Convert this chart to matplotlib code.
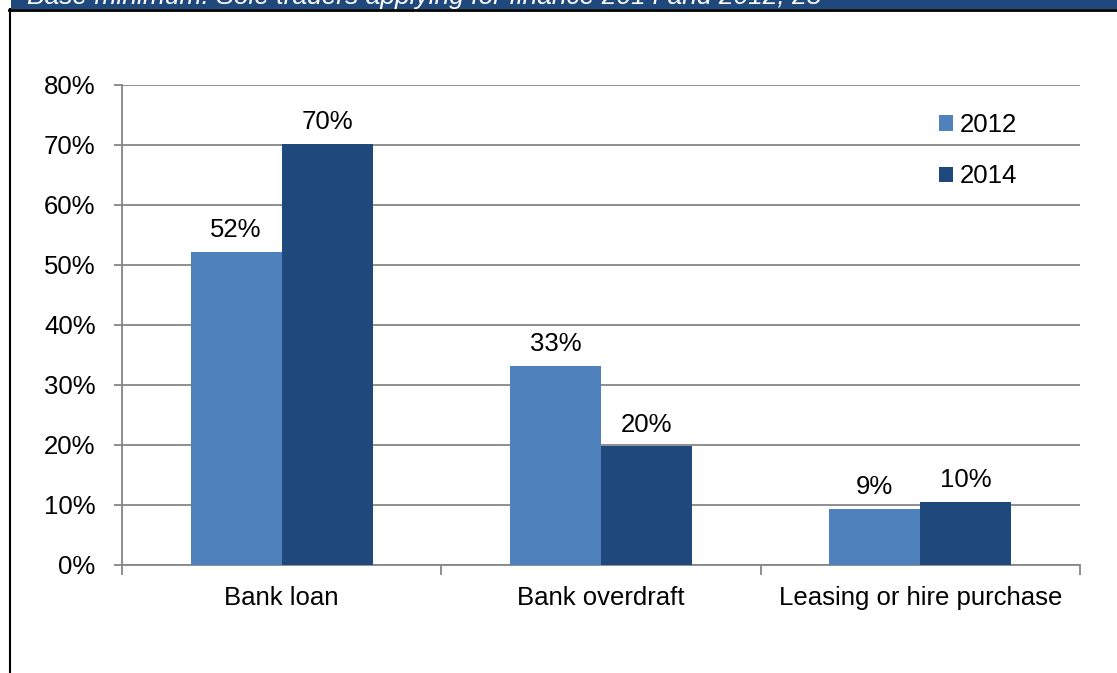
import matplotlib
matplotlib.use("Agg")
import matplotlib.pyplot as plt
from matplotlib.patches import Rectangle
import numpy as np

categories = ["Bank loan", "Bank overdraft", "Leasing or hire purchase"]
series_names = ["2012", "2014"]
values_2012 = [0.522, 0.332, 0.094]
values_2014 = [0.702, 0.198, 0.105]
labels_2012 = ["52%", "33%", "9%"]
labels_2014 = ["70%", "20%", "10%"]
yticks = [0, 0.1, 0.2, 0.3, 0.4, 0.5, 0.6, 0.7, 0.8]
ytick_labels = ["0%", "10%", "20%", "30%", "40%", "50%", "60%", "70%", "80%"]
header = "Base minimum: Sole traders applying for finance 2014 and 2012, 25"

plt.rcParams['font.family'] = ['Liberation Sans', 'DejaVu Sans']
FS = 18.5

W, H = 1117, 673
fig = plt.figure(figsize=(W/100, H/100), dpi=100)
ax = fig.add_axes([122/W, 1-565/H, (1080-122)/W, (565-85)/H])

c2012 = "#4F81BD"
c2014 = "#1F497D"
x = np.arange(len(categories))
bw = 0.285
b1 = ax.bar(x - bw/2, values_2012, bw, color=c2012, label=series_names[0], zorder=3)
b2 = ax.bar(x + bw/2, values_2014, bw, color=c2014, label=series_names[1], zorder=3)
for bars, labs in ((b1, labels_2012), (b2, labels_2014)):
    for r, l in zip(bars, labs):
        ax.annotate(l, (r.get_x() + r.get_width()/2, r.get_height()),
                    xytext=(0, 10.5), textcoords="offset points",
                    ha="center", va="baseline", fontsize=FS)

ax.set_xlim(-0.5, 2.5)
ax.set_ylim(0, 0.8)
ax.set_yticks(yticks)
ax.set_yticklabels(ytick_labels, fontsize=FS)
ax.yaxis.grid(True, color="#868686", linewidth=1.3, zorder=0)
ax.set_axisbelow(True)
ax.set_xticks([-0.5, 0.5, 1.5, 2.5])
ax.set_xticklabels([])
ax.set_xticks(x, minor=True)
ax.set_xticklabels(categories, minor=True, fontsize=FS)
ax.tick_params(axis='x', which='minor', length=0, pad=15)
ax.tick_params(axis='x', which='major', length=7, color="#868686", width=1.3)
ax.tick_params(axis='y', length=6, color="#868686", width=1.3, pad=13)
for s in ("top", "right"):
    ax.spines[s].set_visible(False)
for s in ("left", "bottom"):
    ax.spines[s].set_color("#868686")
    ax.spines[s].set_linewidth(1.3)

leg = ax.legend(loc="upper left", bbox_to_anchor=((939-122)/(1080-122), 1 - (113-85)/480),
                frameon=False, fontsize=FS, handlelength=0.55, handleheight=0.55,
                handletextpad=0.25, labelspacing=1.07, borderaxespad=0, borderpad=0)

# header band and borders
fig.patches.append(Rectangle((11/W, 1-9/H), 1, 9/H, transform=fig.transFigure,
                             facecolor="#1F497D", edgecolor="none", zorder=0))
fig.lines.append(plt.Line2D([9/W, 1], [1-10/H, 1-10/H], transform=fig.transFigure,
                            color="black", linewidth=2))
fig.lines.append(plt.Line2D([10/W, 10/W], [0, 1-9/H], transform=fig.transFigure,
                            color="black", linewidth=1.5))
fig.text(27/W, 1-4/H, header, color="white", fontsize=19, style="italic",
         ha="left", va="baseline")

fig.savefig("out.png", dpi=100)
